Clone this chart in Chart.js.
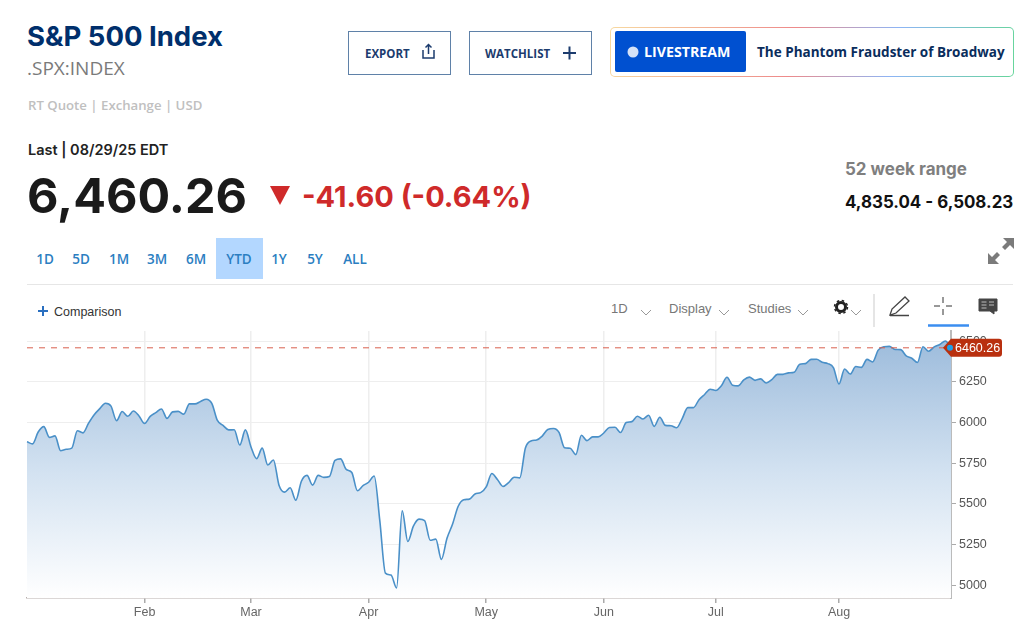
<!DOCTYPE html>
<html>
<head>
<meta charset="utf-8">
<script src="https://cdn.jsdelivr.net/npm/chart.js@4"></script>
<style>
html,body{margin:0;padding:0;background:#fff;width:1024px;height:623px;overflow:hidden}
.t{position:absolute;white-space:nowrap;font-family:"Open Sans",sans-serif;line-height:1}
.i{font-family:Inter,sans-serif}
.box{position:absolute;box-sizing:border-box}
svg{position:absolute;overflow:visible}
canvas{position:absolute;left:0;top:325px}
.rng{color:#2b7ec1;font-size:13.5px;font-weight:600;top:253px;transform:translateX(-50%)}
.tool{color:#777;font-size:13px;font-family:"Liberation Sans",sans-serif;top:302px}
</style>
</head>
<body>
<div class="t i" style="left:27px;top:23px;font-size:27.5px;font-weight:700;color:#002f6c">S&amp;P 500 Index</div>
<div class="t" style="left:27px;top:59px;font-size:19px;color:#7a7a7a">.SPX:INDEX</div>
<div class="t" style="left:28px;top:99px;font-size:13.2px;font-weight:600;color:#c0c0c0">RT Quote | Exchange | USD</div>
<div class="t i" style="left:28px;top:143px;font-size:14.5px;font-weight:600;color:#222">Last | 08/29/25 EDT</div>
<div class="t i" style="left:27px;top:172px;font-size:48.5px;font-weight:700;color:#1a1a1a">6,460.26</div>
<svg style="left:0;top:0" width="1024" height="623"><path d="M270 186h20l-10 19z" fill="#cf2a2a"/></svg>
<div class="t i" style="left:302px;top:182px;font-size:29px;font-weight:700;color:#cf2a2a">-41.60 (-0.64%)</div>
<div class="t i" style="left:845px;top:161px;font-size:17px;font-weight:700;color:#7f7f7f">52 week range</div>
<div class="t i" style="left:845px;top:194px;font-size:16.9px;font-weight:700;color:#111">4,835.04 - 6,508.23</div>

<div class="box" style="left:348px;top:31px;width:103px;height:44px;border:1px solid #5f81a8"></div>
<div class="t" style="left:365px;top:48px;font-size:11.5px;font-weight:700;color:#1c3c6e">EXPORT</div>
<svg style="left:0;top:0" width="1024" height="623" fill="none" stroke="#1c3c6e" stroke-width="1.5">
<path d="M423 50v8h11v-8M428.500 54v-9M425.500 47.500l3-3 3 3"/>
<path d="M563 53h13M569.500 46.500v13" stroke-width="2"/>
</svg>
<div class="box" style="left:469px;top:31px;width:123px;height:44px;border:1px solid #5f81a8"></div>
<div class="t" style="left:485px;top:48px;font-size:11.5px;font-weight:700;color:#1c3c6e">WATCHLIST</div>

<div class="box" style="left:610px;top:27px;width:404px;height:50px;border-radius:5px;padding:1px;background:linear-gradient(100deg,#f7d9a0,#ee8a8a 45%,#8db4f5 70%,#66d69a)">
  <div style="width:100%;height:100%;background:#fff;border-radius:4px"></div>
</div>
<div class="box" style="left:615px;top:31px;width:131px;height:41px;background:#0050d0;border-radius:2px"></div>
<svg style="left:0;top:0" width="1024" height="623"><circle cx="633" cy="52" r="5.500" fill="#d5e2f8"/></svg>
<div class="t" style="left:644px;top:45px;font-size:14.200px;font-weight:700;color:#fff">LIVESTREAM</div>
<div class="t" style="left:757px;top:46px;font-size:13.500px;font-weight:700;color:#0a2d5c">The Phantom Fraudster of Broadway</div>

<div class="box" style="left:216px;top:238px;width:47px;height:41px;background:#b3d7ff"></div>
<div class="t rng" style="left:45px">1D</div>
<div class="t rng" style="left:81px">5D</div>
<div class="t rng" style="left:119px">1M</div>
<div class="t rng" style="left:157px">3M</div>
<div class="t rng" style="left:196px">6M</div>
<div class="t rng" style="left:239px">YTD</div>
<div class="t rng" style="left:279px">1Y</div>
<div class="t rng" style="left:315px">5Y</div>
<div class="t rng" style="left:355px">ALL</div>
<svg style="left:0;top:0" width="1024" height="623" fill="#7b7b7b">
<path d="M1003 238h11v11l-4-4-5 5-3-3 5-5zM988 264v-11l4 4 5-5 3 3-5 5 4 4z"/>
</svg>
<div class="box" style="left:27px;top:284px;width:986px;height:1px;background:#e6e6e6"></div>

<svg style="left:0;top:0" width="1024" height="623" fill="none" stroke="#2a6fc0" stroke-width="2"><path d="M38 311h10M43 306v10"/></svg>
<div class="t" style="left:54px;top:306px;font-size:12.5px;color:#333;font-family:'Liberation Sans'">Comparison</div>
<div class="t tool" style="left:611px">1D</div>
<div class="t tool" style="left:669px">Display</div>
<div class="t tool" style="left:748px">Studies</div>
<svg style="left:0;top:0" width="1024" height="623" fill="none" stroke="#999" stroke-width="1">
<path d="M641 310l5 5 5-5M719 310l5 5 5-5M798 310l5 5 5-5M851 310l5 5 5-5"/>
<circle cx="841" cy="307" r="4.500" stroke="#222" stroke-width="3"/>
<circle cx="841" cy="307" r="6.500" stroke="#222" stroke-width="1.500" stroke-dasharray="2.500 2.600"/>
<path d="M874 294v33" stroke="#ddd" stroke-width="1.500"/>
<path d="M890 315l2-6 13-12 4 4-13 12zM890 315.500h19" stroke="#444" stroke-width="1.300"/>
<path d="M943 297v6M943 309v6M934 306h6M946 306h6" stroke="#333"/>
<path d="M928 325.500h41" stroke="#3b8ef0" stroke-width="2.500"/>
<path d="M979 299h18v12h-3v3l-4-3h-11z" fill="#444" stroke="#444"/>
<path d="M981.500 302h5M981.500 305h5M981.500 308h5M989 302h5M989 305h5" stroke="#bbb"/>
</svg>

<canvas id="spxChart" width="1024" height="298"></canvas>
<script>
const closeDates=["12/31","01/02","01/03","01/06","01/07","01/08","01/10","01/13","01/14","01/15","01/16","01/17","01/21","01/22","01/23","01/24","01/27","01/28","01/29","01/30","01/31",
"02/03","02/04","02/05","02/06","02/07","02/10","02/11","02/12","02/13","02/14","02/18","02/19","02/20","02/21","02/24","02/25","02/26","02/27","02/28",
"03/03","03/04","03/05","03/06","03/07","03/10","03/11","03/12","03/13","03/14","03/17","03/18","03/19","03/20","03/21","03/24","03/25","03/26","03/27","03/28","03/31",
"04/01","04/02","04/03","04/04","04/07","04/08","04/09","04/10","04/11","04/14","04/15","04/16","04/17","04/21","04/22","04/23","04/24","04/25","04/28","04/29","04/30",
"05/01","05/02","05/05","05/06","05/07","05/08","05/09","05/12","05/13","05/14","05/15","05/16","05/19","05/20","05/21","05/22","05/23","05/27","05/28","05/29","05/30",
"06/02","06/03","06/04","06/05","06/06","06/09","06/10","06/11","06/12","06/13","06/16","06/17","06/18","06/20","06/23","06/24","06/25","06/26","06/27","06/30",
"07/01","07/02","07/03","07/07","07/08","07/09","07/10","07/11","07/14","07/15","07/16","07/17","07/18","07/21","07/22","07/23","07/24","07/25","07/28","07/29","07/30","07/31",
"08/01","08/04","08/05","08/06","08/07","08/08","08/11","08/12","08/13","08/14","08/15","08/18","08/19","08/20","08/21","08/22","08/25","08/26","08/27","08/28","08/29"];

const closeValues=[5882,5869,5942,5975,5909,5918,5827,5836,5843,5950,5937,5997,6049,6086,6119,6101,6012,6068,6039,6071,6041,
5995,6038,6061,6084,6026,6066,6069,6052,6115,6115,6130,6144,6118,6013,5983,5955,5956,5862,5955,
5850,5778,5843,5739,5770,5615,5572,5599,5522,5639,5675,5615,5675,5663,5668,5768,5777,5712,5693,5581,5612,
5633,5671,5397,5074,5062,4983,5457,5268,5363,5406,5397,5276,5283,5158,5288,5376,5485,5525,5529,5561,5569,
5604,5687,5650,5607,5631,5664,5660,5844,5887,5893,5917,5958,5964,5940,5845,5842,5803,5922,5889,5912,5912,
5936,5970,5971,5939,6000,6006,6039,6022,6045,5977,6033,5983,5981,5968,6025,6092,6092,6141,6173,6205,
6198,6227,6279,6230,6226,6263,6280,6260,6269,6244,6264,6297,6297,6306,6310,6359,6363,6389,6390,6371,6363,6339,
6238,6330,6299,6345,6340,6389,6373,6446,6467,6469,6450,6449,6411,6396,6370,6467,6439,6466,6481,6502,6460.26];

const monthTickDates=["02/03","03/03","04/01","05/01","06/02","07/01","08/01"];
const monthTickLabels=["Feb","Mar","Apr","May","Jun","Jul","Aug"];
const lastPrice=6460.26;
const lastPriceLabel="6460.26";

// dashed last-price line and the red price tag on the right axis
const lastPricePlugin={
    id:"lastPrice",
    afterDatasetsDraw(chart){
        let c=chart.ctx, y=chart.scales.y.getPixelForValue(lastPrice), a=chart.chartArea;
        c.save();
        c.strokeStyle="#d9604e";
        c.lineWidth=1;
        c.setLineDash([6,6]);
        c.beginPath();
        c.moveTo(a.left,y);
        c.lineTo(a.right-6,y);
        c.stroke();
        c.restore();
    },
    afterDraw(chart){
        let c=chart.ctx, y=chart.scales.y.getPixelForValue(lastPrice), r=chart.chartArea.right;
        c.save();
        c.fillStyle="#b9300f";
        c.beginPath();
        c.moveTo(r-8,y);
        c.lineTo(r,y-9);
        c.lineTo(r+48,y-9);
        c.quadraticCurveTo(r+51,y-9,r+51,y-6);
        c.lineTo(r+51,y+6);
        c.quadraticCurveTo(r+51,y+9,r+48,y+9);
        c.lineTo(r,y+9);
        c.closePath();
        c.fill();
        c.fillStyle="#1ea0ea";
        c.beginPath();
        c.arc(r-1,y,3,0,Math.PI*2);
        c.fill();
        c.fillStyle="#fff";
        c.font="12.5px 'Liberation Sans'";
        c.textBaseline="middle";
        c.fillText(lastPriceLabel,r+4,y+0.5);
        c.restore();
    }
};

let ctx=document.getElementById("spxChart");
new Chart(ctx,{
    type:"line",
    data:{
        labels:closeDates,
        datasets:[{
            data:closeValues,
            borderColor:"#4a90c8",
            borderWidth:1.6,
            pointRadius:0,
            cubicInterpolationMode:"monotone",
            fill:"start",
            backgroundColor(context){
                let a=context.chart.chartArea;
                if(!a) return "#fff";
                let g=context.chart.ctx.createLinearGradient(0,a.top+16,0,a.bottom);
                g.addColorStop(0,"#a0bedd");
                g.addColorStop(0.5,"#d3e2f1");
                g.addColorStop(1,"#ffffff");
                return g;
            }
        }]
    },
    options:{
        responsive:false,
        animation:false,
        layout:{padding:{left:27,top:6,right:0,bottom:0}},
        plugins:{legend:{display:false},tooltip:{enabled:false}},
        scales:{
            x:{
                offset:false,
                afterBuildTicks(s){
                    s.ticks=monthTickDates.map(d=>({value:closeDates.indexOf(d)}));
                },
                afterFit(s){s.height=25},
                grid:{color:"#eeeeee",tickColor:"#aaa",tickLength:5,lineWidth:1.5},
                border:{color:"#b8b0ae",width:1.5},
                ticks:{
                    autoSkip:false,maxRotation:0,color:"#666",padding:2,
                    font:{family:"Liberation Sans",size:12.5},
                    callback(v,i){return monthTickLabels[i]}
                }
            },
            y:{
                position:"right",
                min:4920.6,
                max:6563.7,
                afterFit(s){s.width=73;s.paddingTop=0;s.paddingBottom=0},
                grid:{color:"#eeeeee",tickColor:"#aaa",tickLength:5,lineWidth:1},
                border:{color:"#bbbbbb",width:2},
                ticks:{
                    stepSize:250,includeBounds:false,color:"#555",padding:3,
                    font:{family:"Liberation Sans",size:12.5},
                    callback(v){return String(v)}
                }
            }
        }
    },
    plugins:[lastPricePlugin]
});
</script>
</body>
</html>
